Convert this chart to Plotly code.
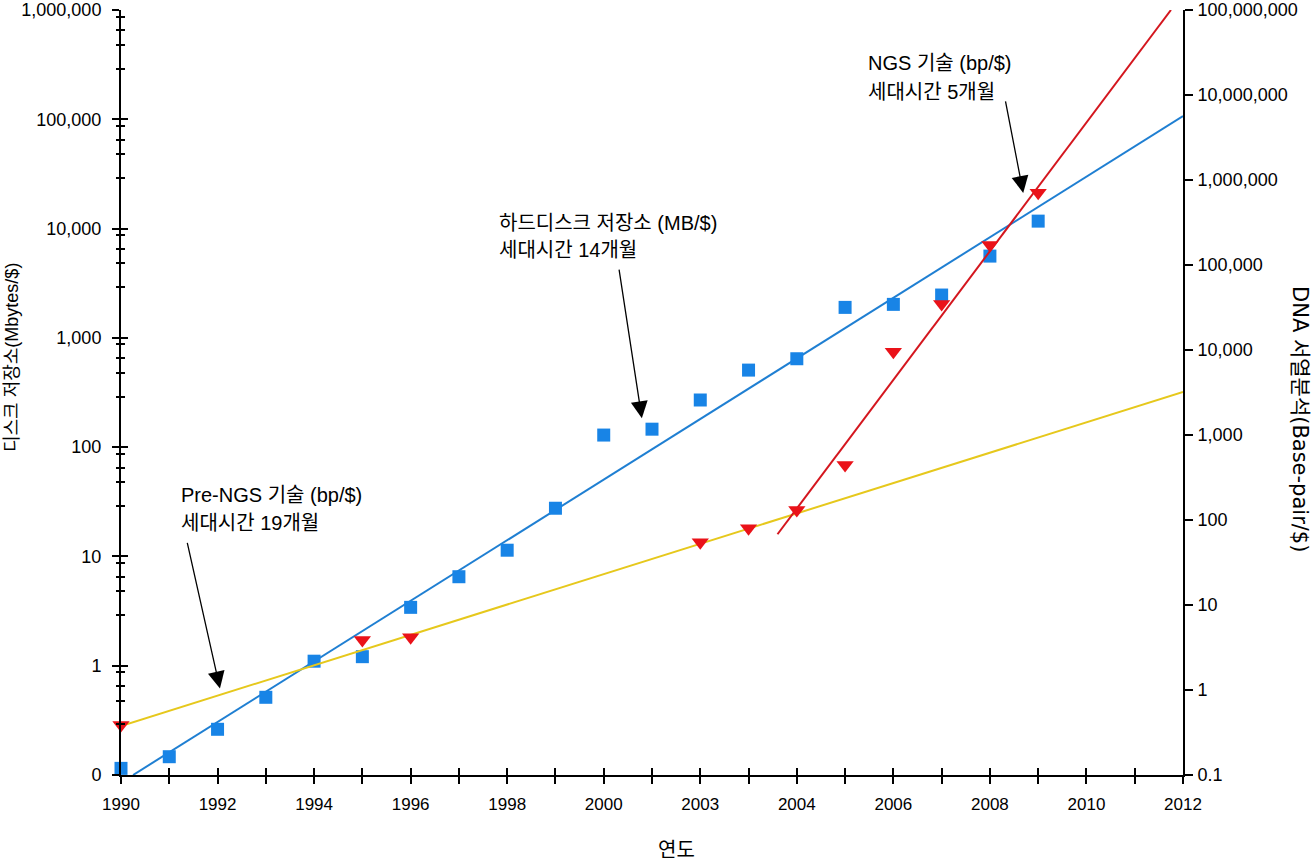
import math
import plotly.graph_objects as go

# ---------------- data ----------------
disk_years = [1990, 1991, 1992, 1993, 1994, 1995, 1996, 1997, 1998, 1999,
              2000, 2001, 2002, 2003, 2004, 2005, 2006, 2007, 2008, 2009]
disk_mb_per_dollar = [0.115, 0.147, 0.262, 0.514, 1.10, 1.21, 3.42, 6.52, 11.4, 27.6,
                      129, 146, 270, 507, 644, 1900, 2025, 2465, 5600, 11700]

seq_years = [1990, 1995, 1996, 2002, 2003, 2004, 2005, 2006, 2007, 2008, 2009]
seq_bp_per_dollar = [0.387, 3.87, 4.17, 54.7, 79.8, 131, 444, 9550, 34800, 172000, 708000]

# trend lines (end points)
disk_trend_years = [1990.25, 2012]
disk_trend_values = [0.1, 107000]
prengs_trend_years = [1990, 2012]
prengs_trend_values = [0.377, 3210]
ngs_trend_years = [2003.6, 2011.75]
ngs_trend_values = [68, 1.0e8]

# axis tick labels
x_label_years = [1990, 1992, 1994, 1996, 1998, 2000, 2002, 2004, 2006, 2008, 2010, 2012]
x_label_text = ["1990", "1992", "1994", "1996", "1998", "2000", "2003", "2004",
                "2006", "2008", "2010", "2012"]
left_tick_vals = [0.1, 1, 10, 100, 1000, 10000, 100000, 1000000]
left_tick_text = ["0", "1", "10", "100", "1,000", "10,000", "100,000", "1,000,000"]
right_tick_vals = [0.1, 1, 10, 100, 1000, 10000, 100000, 1000000, 10000000, 100000000]
right_tick_text = ["0.1", "1", "10", "100", "1,000", "10,000", "100,000", "1,000,000",
                   "10,000,000", "100,000,000"]

# ---------------- styling ----------------
W, H = 1315, 862
ML, MR, MT, MB = 121, 132, 10, 87
PW, PH = W - ML - MR, H - MT - MB

LATIN = "Liberation Sans, Arial, Helvetica, sans-serif"
KFONT = "Liberation Sans, Noto Sans CJK KR, sans-serif"
KFONT_WIDE = "DejaVu Sans, Noto Sans CJK KR, sans-serif"

BLUE_MK = "#1884e6"
BLUE_LN = "#1f7fd2"
RED_MK = "#ea1219"
RED_LN = "#d4161e"
YELLOW = "#e6c81c"


def px(xp):
    return (xp - ML) / PW


def py(yp):
    return (H - MB - yp) / PH


all_years = list(range(1990, 2013))
label_map = dict(zip(x_label_years, x_label_text))
all_year_text = [label_map.get(y, "") for y in all_years]

minor_fracs = [0.87, 0.65, 0.48, 0.29]
left_minor = [d * 10 * f for d in left_tick_vals[:-1] for f in minor_fracs]

fig = go.Figure()

# blue (disk) on left axis
fig.add_trace(go.Scatter(x=disk_trend_years, y=disk_trend_values, mode="lines",
                         line=dict(color=BLUE_LN, width=2), xaxis="x", yaxis="y",
                         showlegend=False, hoverinfo="skip"))
fig.add_trace(go.Scatter(x=disk_years, y=disk_mb_per_dollar, mode="markers",
                         marker=dict(symbol="square", size=13, color=BLUE_MK),
                         xaxis="x", yaxis="y", showlegend=False, cliponaxis=False))

# red/yellow (sequencing) on right axis
fig.add_trace(go.Scatter(x=prengs_trend_years, y=prengs_trend_values, mode="lines",
                         line=dict(color=YELLOW, width=2), xaxis="x", yaxis="y2",
                         showlegend=False, hoverinfo="skip"))
fig.add_trace(go.Scatter(x=ngs_trend_years, y=ngs_trend_values, mode="lines",
                         line=dict(color=RED_LN, width=2), xaxis="x", yaxis="y2",
                         showlegend=False, hoverinfo="skip", cliponaxis=False))
fig.add_trace(go.Scatter(x=seq_years, y=seq_bp_per_dollar, mode="markers",
                         marker=dict(symbol="triangle-down", size=15, color=RED_MK),
                         xaxis="x", yaxis="y2", showlegend=False, cliponaxis=False))

# helper (empty) traces so that the tick-only overlay axes are drawn
for xa, ya in [("x2", "y"), ("x", "y3"), ("x", "y4"), ("x", "y5")]:
    fig.add_trace(go.Scatter(x=[None], y=[None], xaxis=xa, yaxis=ya,
                             showlegend=False, hoverinfo="skip"))

xtickfont = dict(family=LATIN, size=17, color="black")
ytickfont = dict(family=LATIN, size=18, color="black")


def tick_only_y(vals, side_ticks, length, width):
    return dict(type="log", range=[-1, 6], overlaying="y", side="left", anchor="x",
                tickmode="array", tickvals=vals, ticks=side_ticks, ticklen=length,
                tickwidth=width, tickcolor="black", showticklabels=False,
                showline=False, showgrid=False, zeroline=False, automargin=False)


fig.update_layout(
    width=W, height=H, autosize=False,
    margin=dict(l=ML, r=MR, t=MT, b=MB, pad=0, autoexpand=False),
    paper_bgcolor="white", plot_bgcolor="white",
    showlegend=False,
    xaxis=dict(range=[1990, 2012], tickmode="array", tickvals=all_years,
               ticktext=all_year_text, ticks="outside", ticklen=7, tickwidth=2,
               tickcolor="black", showline=True, linecolor="black", linewidth=2,
               showgrid=False, zeroline=False, tickfont=xtickfont,
               ticklabelstandoff=6, anchor="y", automargin=False),
    xaxis2=dict(range=[1990, 2012], overlaying="x", anchor="y", side="bottom",
                tickmode="array", tickvals=all_years, ticks="inside", ticklen=7,
                tickwidth=2, tickcolor="black", showticklabels=False,
                showline=False, showgrid=False, zeroline=False, automargin=False),
    yaxis=dict(type="log", range=[-1, 6], tickmode="array", tickvals=left_tick_vals,
               ticktext=left_tick_text, ticks="outside", ticklen=7, tickwidth=2,
               tickcolor="black", showline=True, linecolor="black", linewidth=2,
               showgrid=False, zeroline=False, tickfont=ytickfont,
               ticklabelstandoff=7, anchor="x", automargin=False),
    yaxis3=tick_only_y(left_tick_vals, "inside", 7, 2),
    yaxis4=tick_only_y(left_minor, "outside", 4, 1.5),
    yaxis5=tick_only_y(left_minor, "inside", 4, 1.5),
    yaxis2=dict(type="log", range=[-1, 8], overlaying="y", side="right", anchor="x",
                tickmode="array", tickvals=right_tick_vals, ticktext=right_tick_text,
                ticks="outside", ticklen=8, tickwidth=2, tickcolor="black",
                showline=True, linecolor="black", linewidth=2, showgrid=False,
                zeroline=False, tickfont=ytickfont, ticklabelstandoff=1,
                automargin=False),
)

# ---------------- annotations ----------------
textfont = dict(family=KFONT, size=20, color="black")
text_lines = [
    ("Pre-NGS 기술 (bp/$)", 179, 495),
    ("세대시간 19개월", 179, 523),
    ("하드디스크 저장소 (MB/$)", 497, 223),
    ("세대시간 14개월", 497, 250),
    ("NGS 기술 (bp/$)", 866, 63),
    ("세대시간 5개월", 866, 92),
]
for txt, xp, yp in text_lines:
    fig.add_annotation(text=txt, xref="paper", yref="paper", x=px(xp), y=py(yp),
                       xanchor="left", yanchor="middle", showarrow=False,
                       font=textfont)

# arrows: (tip year, tip value on left axis, tail offset px)
arrows = [
    (1992.05, 0.62, -33, -147),
    (2000.79, 184, -23, -150),
    (2008.69, 21200, -18, -93),
]
for xa, ya, axp, ayp in arrows:
    fig.add_annotation(x=xa, y=math.log10(ya), xref="x", yref="y", text="",
                       showarrow=True, ax=axp, ay=ayp, arrowhead=2, arrowsize=2.6,
                       arrowwidth=1.3, arrowcolor="black", standoff=0)

# axis titles
fig.add_annotation(text="디스크 저장소(Mbytes/$)", xref="paper", yref="paper",
                   x=px(12), y=py(358), textangle=-90, showarrow=False,
                   xanchor="center", yanchor="middle",
                   font=dict(family=KFONT, size=18, color="black"))
fig.add_annotation(text="DNA 서열분석(Base-pair/$)", xref="paper", yref="paper",
                   x=px(1300), y=py(419), textangle=90, showarrow=False,
                   xanchor="center", yanchor="middle",
                   font=dict(family=KFONT_WIDE, size=21, color="black"))
fig.add_annotation(text="연도", xref="paper", yref="paper",
                   x=px(676), y=py(850), showarrow=False,
                   xanchor="center", yanchor="middle",
                   font=dict(family=KFONT, size=20, color="black"))

fig.write_html("out.html", config={"displayModeBar": False},
               post_script="document.body.style.margin='0';document.body.style.overflow='hidden';")
